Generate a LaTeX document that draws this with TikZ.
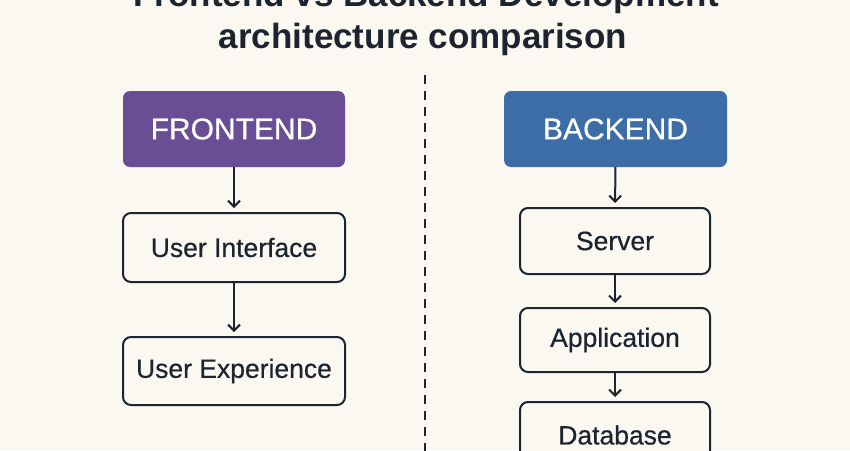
\documentclass[tikz,border=0pt]{standalone}
\usepackage{fontspec}
\setmainfont{Liberation Sans}
\newfontfamily\medfont[FakeBold=0.5]{Liberation Sans}
\usetikzlibrary{arrows.meta}
\definecolor{bgc}{HTML}{FBF8F2}
\definecolor{ink}{HTML}{1C2430}
\definecolor{fepurple}{HTML}{694D95}
\definecolor{beblue}{HTML}{3C6DA6}
\tikzset{
  headbox/.style={rounded corners=7pt, draw=none, text=white, inner sep=0pt,
    font=\medfont\fontsize{30}{34}\selectfont},
  itembox/.style={rounded corners=8pt, draw=ink, line width=2pt, fill=bgc, text=ink, inner sep=0pt,
    font=\medfont\fontsize{26.5}{30}\selectfont},
  arr/.style={draw=ink, line width=2pt, -{Straight Barb[length=6pt,width=12pt,line width=2pt]}, shorten >=4pt},
  titletext/.style={text=ink, inner sep=0pt, anchor=base, font=\fontsize{35}{40}\bfseries\selectfont},
}
\begin{document}
\begin{tikzpicture}[x=1pt,y=-1pt]
\useasboundingbox (0,0) rectangle (850,450);
\clip (0,0) rectangle (850,450);
\fill[bgc] (0,0) rectangle (850,450);
% title
\node[titletext] (t1) at (426,6) {Frontend vs Backend Development};
\node[titletext] (t2) at (423,48) {architecture comparison};
% divider
\coordinate (d1) at (425,75);
\coordinate (d2) at (425,455);
\draw[ink, line width=2pt, dash pattern=on 9pt off 7pt] (d1) -- (d2);
% frontend
\node[headbox, fill=fepurple, minimum width=222pt, minimum height=76pt] (fe) at (234,129) {FRONTEND};
\node[itembox, minimum width=222pt, minimum height=69pt] (ui) at (234,247.5) {User Interface};
\node[itembox, minimum width=222pt, minimum height=68pt] (ux) at (234,371) {User Experience};
\draw[arr] (fe) -- (ui);
\draw[arr] (ui) -- (ux);
% backend
\node[headbox, fill=beblue, minimum width=223pt, minimum height=76pt] (be) at (615.5,129) {BACKEND};
\node[itembox, minimum width=190pt, minimum height=66pt] (srv) at (615,241) {Server};
\node[itembox, minimum width=190pt, minimum height=64pt] (app) at (615,340) {Application};
\node[itembox, minimum width=190pt, minimum height=66pt] (db) at (615,435) {Database};
\draw[arr] (be) -- (srv);
\draw[arr] (srv) -- (app);
\draw[arr] (app) -- (db);
\end{tikzpicture}
\end{document}
